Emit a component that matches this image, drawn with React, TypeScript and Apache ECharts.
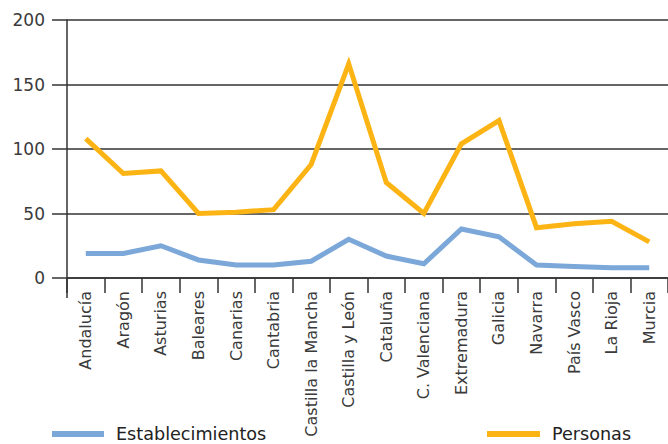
import React, { useEffect, useRef } from "react";
import * as echarts from "echarts";

const categories = [
  "Andalucía", "Aragón", "Asturias", "Baleares", "Canarias", "Cantabria",
  "Castilla la Mancha", "Castilla y León", "Cataluña", "C. Valenciana",
  "Extremadura", "Galicia", "Navarra", "País Vasco", "La Rioja", "Murcia",
];
const establecimientos = [19, 19, 25, 14, 10, 10, 13, 30, 17, 11, 38, 32, 10, 9, 8, 8];
const personas = [108, 81, 83, 50, 51, 53, 88, 166, 74, 50, 104, 122, 39, 42, 44, 28];
const yTicks = { min: 0, max: 200, interval: 50 };

const FONT = "DejaVu Sans";
const AXIS = "#333333";
const BLUE = "#7ba7d9";
const ORANGE = "#fcb415";

export default function App() {
  const ref = useRef<HTMLDivElement>(null);
  useEffect(() => {
    if (!ref.current) return;
    const chart = echarts.init(ref.current, null, { renderer: "svg" });
    const legendText = { fontFamily: FONT, fontSize: 17.6, color: "#222", padding: [0, 0, 0, 7], lineHeight: 18 };
    chart.setOption({
      animation: false,
      backgroundColor: "#ffffff",
      grid: { left: 67, right: -2, top: 20, bottom: 166, containLabel: false },
      legend: [
        {
          data: ["Establecimientos"],
          left: 52,
          top: 425,
          padding: 0,
          icon: "rect",
          itemWidth: 52,
          itemHeight: 6,
          textStyle: legendText,
        },
        {
          data: ["Personas"],
          left: 487,
          top: 425,
          padding: 0,
          icon: "rect",
          itemWidth: 53,
          itemHeight: 6,
          textStyle: legendText,
        },
      ],
      xAxis: {
        type: "category",
        data: categories,
        boundaryGap: true,
        axisLine: { show: true, lineStyle: { color: AXIS, width: 1.5 } },
        axisTick: { show: true, length: 15, interval: 0, lineStyle: { color: AXIS, width: 1.5 } },
        axisLabel: {
          interval: 0,
          rotate: 90,
          margin: 13,
          fontFamily: FONT,
          fontSize: 16,
          color: "#3a3a3a",
        },
        splitLine: { show: false },
      },
      yAxis: {
        type: "value",
        min: yTicks.min,
        max: yTicks.max,
        interval: yTicks.interval,
        axisLine: { show: true, lineStyle: { color: AXIS, width: 1.5 } },
        axisTick: { show: true, length: 15, lineStyle: { color: AXIS, width: 1.5 } },
        axisLabel: { margin: 22, fontFamily: FONT, fontSize: 17, color: "#3a3a3a" },
        splitLine: { show: true, lineStyle: { color: AXIS, width: 1.5 } },
      },
      graphic: [
        {
          type: "line",
          shape: { x1: 67, y1: 278, x2: 67, y2: 298 },
          style: { stroke: AXIS, lineWidth: 1.5 },
        },
      ],
      series: [
        {
          name: "Establecimientos",
          type: "line",
          data: establecimientos,
          showSymbol: false,
          symbol: "none",
          itemStyle: { color: BLUE },
          lineStyle: { color: BLUE, width: 5, join: "miter" },
        },
        {
          name: "Personas",
          type: "line",
          data: personas,
          showSymbol: false,
          symbol: "none",
          itemStyle: { color: ORANGE },
          lineStyle: { color: ORANGE, width: 5, join: "miter" },
        },
      ],
    });
    return () => chart.dispose();
  }, []);
  return (
    <div
      ref={ref}
      style={{ position: "absolute", left: 0, top: 0, width: 668, height: 444 }}
    />
  );
}
